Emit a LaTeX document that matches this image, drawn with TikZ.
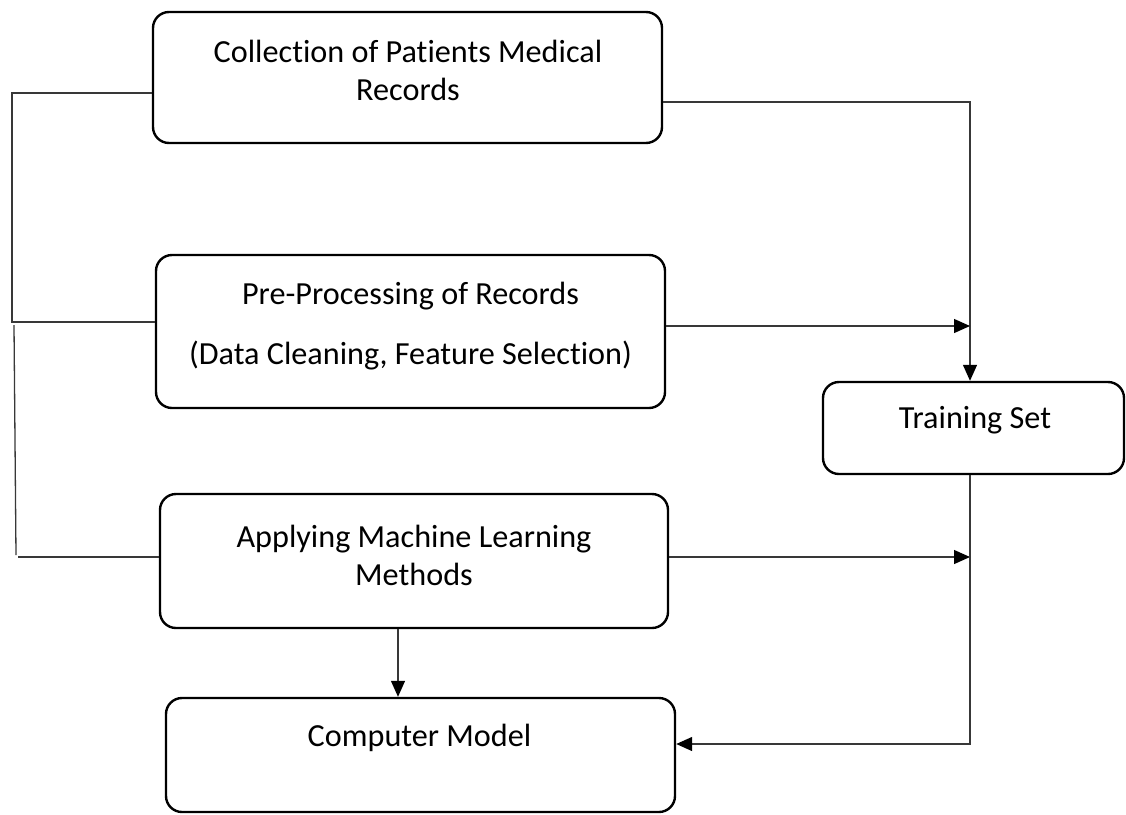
\documentclass[tikz,border=0pt]{standalone}
\usepackage{fontspec}
\setmainfont[Ligatures=NoCommon]{Carlito}
\usetikzlibrary{arrows.meta}
\begin{document}
\begin{tikzpicture}[x=1pt,y=-1pt,
  box/.style={draw, line width=2.4pt, rounded corners=16pt, inner sep=0pt},
  lbl/.style={anchor=base, inner sep=0pt, font=\fontsize{32.2}{38}\selectfont},
  wire/.style={draw=black!78, line width=1.3pt},
  arr/.style={wire, -{Triangle[length=16pt,width=14pt,black]}}]
\useasboundingbox (0,0) rectangle (1126,814);

% process boxes
\node[box, minimum width=509pt, minimum height=131pt] (b1) at (407.5,77.5) {};
\node[box, minimum width=509pt, minimum height=153pt] (b2) at (410.5,331.5) {};
\node[box, minimum width=508pt, minimum height=134pt] (b3) at (414,561) {};
\node[box, minimum width=509pt, minimum height=114pt] (b4) at (420.5,755) {};
\node[box, minimum width=301pt, minimum height=92pt] (tb) at (973.5,428) {};

% box texts
\node[lbl] (t1a) at (408,62) {Collection of Patients Medical};
\node[lbl] (t1b) at (408,100) {Records};
\node[lbl] (t2a) at (410.5,304) {Pre-Processing of Records};
\node[lbl] (t2b) at (410.5,364) {(Data Cleaning, Feature Selection)};
\node[lbl] (t3a) at (414,547) {Applying Machine Learning};
\node[lbl] (t3b) at (414,585) {Methods};
\node[lbl] (t4) at (419.5,746) {Computer Model};
\node[lbl] (t5) at (975,428) {Training Set};

% left-hand links between the boxes
\coordinate (l1) at (12,93);
\coordinate (l2) at (12,322);
\coordinate (l2b) at (14,325);
\coordinate (l3) at (16,555);
\coordinate (l3b) at (18,557);
\draw[wire] (b1.west |- l1) -- (l1) -- (l2) -- (b2.west |- l2);
\draw[wire] (l2b) -- (l3);
\draw[wire] (l3b) -- (b3.west |- l3b);

% right-hand flow into the training set and the model
\coordinate (r1) at (970,102);
\coordinate (r2) at (970,326);
\coordinate (r3) at (970,557);
\coordinate (r4) at (970,744);
\coordinate (m) at (398,0);
\draw[arr] (b1.east |- r1) -- (r1) -- (r1 |- tb.north);
\draw[arr] (b2.east |- r2) -- (r2);
\draw[arr] (b3.east |- r3) -- (r3);
\draw[arr] (r1 |- tb.south) -- (r4) -- (b4.east |- r4);
\draw[arr] (m |- b3.south) -- (m |- b4.north);
\end{tikzpicture}
\end{document}
